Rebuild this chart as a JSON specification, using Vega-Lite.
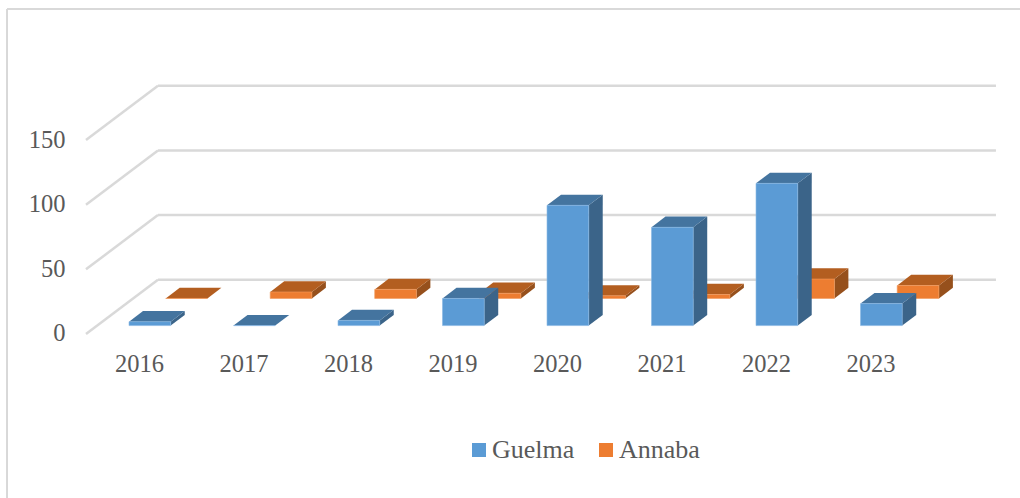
{
"$schema":"https://vega.github.io/schema/vega-lite/v6.json",
"width":1020,"height":498,"padding":0,"autosize":{"type":"none"},
"background":"white",
"view":{"stroke":null},
"config":{"font":"Liberation Serif"},
"datasets":{
 "levels":[{"level":0},{"level":50},{"level":100},{"level":150}]
},
"data":{"values":[
{"year":2016,"series":"Guelma","value":3},{"year":2017,"series":"Guelma","value":0},{"year":2018,"series":"Guelma","value":4},{"year":2019,"series":"Guelma","value":21},{"year":2020,"series":"Guelma","value":93},{"year":2021,"series":"Guelma","value":76},{"year":2022,"series":"Guelma","value":110},{"year":2023,"series":"Guelma","value":17},
{"year":2016,"series":"Annaba","value":0},{"year":2017,"series":"Annaba","value":5},{"year":2018,"series":"Annaba","value":7},{"year":2019,"series":"Annaba","value":4},{"year":2020,"series":"Annaba","value":2},{"year":2021,"series":"Annaba","value":3},{"year":2022,"series":"Annaba","value":15},{"year":2023,"series":"Annaba","value":10}
]},
"transform":[
 {"calculate":"datum.year+(datum.series==='Annaba'?0.246:-0.105)","as":"left"},
 {"calculate":"datum.left+0.399","as":"right"},
 {"calculate":"datum.series==='Annaba'?27.5:6.5","as":"base"},
 {"calculate":"datum.base+datum.value","as":"top"},
 {"calculate":"[0,1]","as":"t"},
 {"flatten":["t"]},
 {"calculate":"datum.left+datum.t*0.134","as":"topL"},
 {"calculate":"datum.right+datum.t*0.134","as":"topR"},
 {"calculate":"datum.top+datum.t*8.28","as":"sideTop"},
 {"calculate":"datum.base+datum.t*8.28","as":"sideBase"}
],
"layer":[
 {"data":{"name":"levels"},
  "mark":{"type":"rule","color":"#D9D9D9","strokeWidth":1.5},
  "encoding":{
   "x":{"datum":2014.727,"type":"quantitative","title":null,"scale":{"domain":[2014.6603,2024.4211],"nice":false,"zero":false},
    "axis":{"values":[2016,2017,2018,2019,2020,2021,2022,2023],"format":"d","orient":"bottom","offset":-146,"domain":false,"ticks":false,"grid":false,"labelPadding":0,"labelOffset":-1,"labelFontSize":24.5,"labelColor":"#595959","labelFont":"Liberation Serif","title":null}},
   "y":{"datum":-128,"type":"quantitative","title":null,"scale":{"domain":[-126.84,258.31],"nice":false,"zero":false},
    "axis":{"values":[0,50,100,150],"orient":"left","offset":-72,"domain":false,"ticks":false,"grid":false,"labelPadding":7,"labelFontSize":24.5,"labelColor":"#595959","labelFont":"Liberation Serif","title":null}},
   "y2":{"datum":251.3}
  }},
 {"data":{"name":"levels"},
  "mark":{"type":"rule","color":"#D9D9D9","strokeWidth":1.5},
  "encoding":{
   "x":{"datum":2014.727,"type":"quantitative","title":null},
   "x2":{"datum":2024.4211},
   "y":{"datum":251.3,"type":"quantitative","title":null}
  }},
 {"data":{"name":"levels"},
  "transform":[{"calculate":"datum.level+42","as":"back"}],
  "mark":{"type":"rule","color":"#D9D9D9","strokeWidth":2.5},
  "encoding":{
   "x":{"datum":2015.483,"type":"quantitative","title":null},
   "x2":{"datum":2016.172},
   "y":{"field":"level","type":"quantitative","title":null},
   "y2":{"field":"back"}
  }},
 {"data":{"name":"levels"},
  "transform":[{"calculate":"datum.level+42","as":"back"}],
  "mark":{"type":"rule","color":"#D9D9D9","strokeWidth":2.5},
  "encoding":{
   "x":{"datum":2016.172,"type":"quantitative","title":null},
   "x2":{"datum":2024.191},
   "y":{"field":"back","type":"quantitative","title":null}
  }},
 {"transform":[{"filter":"datum.series==='Annaba'"}],
  "mark":{"type":"area","color":"#96501C"},
  "encoding":{"detail":{"field":"year"},"x":{"field":"topR","type":"quantitative","title":null},"y":{"field":"sideTop","type":"quantitative","title":null,"stack":null},"y2":{"field":"sideBase"}}},
 {"transform":[{"filter":"datum.series==='Annaba'"}],
  "mark":{"type":"area","orient":"horizontal","color":"#B35E20"},
  "encoding":{"detail":{"field":"year"},"x":{"field":"topL","type":"quantitative","title":null,"stack":null},"x2":{"field":"topR"},"y":{"field":"sideTop","type":"quantitative","title":null}}},
 {"transform":[{"filter":"datum.series==='Annaba' && datum.t===0"}],
  "mark":{"type":"rect","stroke":"#F29A5C","strokeWidth":0.6},
  "encoding":{"x":{"field":"left","type":"quantitative","title":null},"x2":{"field":"right"},"y":{"field":"top","type":"quantitative","title":null},"y2":{"field":"base"},
   "color":{"field":"series","type":"nominal","scale":{"domain":["Guelma","Annaba"],"range":["#5B9BD5","#ED7D31"]},
    "legend":{"title":null,"orient":"none","legendX":466,"legendY":437,"direction":"horizontal","symbolType":"square","symbolSize":196,"symbolStrokeWidth":0,"labelFontSize":26,"labelColor":"#595959","labelFont":"Liberation Serif","columnPadding":18,"labelOffset":0,"symbolOffset":0,"padding":0}}}},
 {"transform":[{"filter":"datum.series==='Guelma'"}],
  "mark":{"type":"area","color":"#3B6489"},
  "encoding":{"detail":{"field":"year"},"x":{"field":"topR","type":"quantitative","title":null},"y":{"field":"sideTop","type":"quantitative","title":null,"stack":null},"y2":{"field":"sideBase"}}},
 {"transform":[{"filter":"datum.series==='Guelma'"}],
  "mark":{"type":"area","orient":"horizontal","color":"#44749F"},
  "encoding":{"detail":{"field":"year"},"x":{"field":"topL","type":"quantitative","title":null,"stack":null},"x2":{"field":"topR"},"y":{"field":"sideTop","type":"quantitative","title":null}}},
 {"transform":[{"filter":"datum.series==='Guelma' && datum.t===0"}],
  "mark":{"type":"rect","stroke":"#86B6E2","strokeWidth":0.6},
  "encoding":{"x":{"field":"left","type":"quantitative","title":null},"x2":{"field":"right"},"y":{"field":"top","type":"quantitative","title":null},"y2":{"field":"base"},
   "color":{"field":"series","type":"nominal"}}}
]
}
